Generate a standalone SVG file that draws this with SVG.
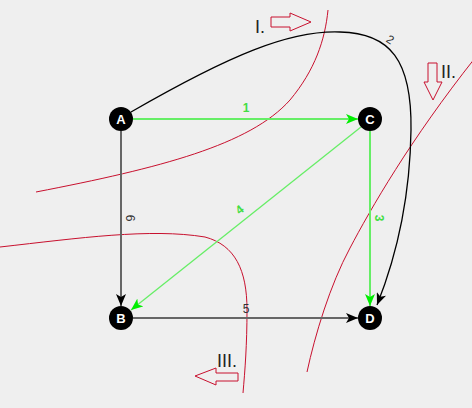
<svg xmlns="http://www.w3.org/2000/svg" width="472" height="408" viewBox="0 0 472 408">
<style>
.red{fill:none;stroke:#c8102e;stroke-width:1}
.redarrow{fill:none;stroke:#c8102e;stroke-width:1}
.cap{font-family:"Liberation Sans",Arial,sans-serif;font-size:18px;fill:#222}
.lbl{font-family:"Liberation Sans",Arial,sans-serif;font-size:12px}
.glbl{font-family:"Liberation Sans",Arial,sans-serif;font-size:12px;font-weight:bold;fill:#44dd44}
.node circle{fill:#000}
.node text{font-family:"Liberation Sans",Arial,sans-serif;font-size:13px;font-weight:bold;fill:#fff;text-anchor:middle}
.gray{fill:none;stroke:#666;stroke-width:2}
.green{fill:none;stroke:#66ee66;stroke-width:2}
.black{fill:none;stroke:#000;stroke-width:1.3}
</style>
<defs>
<marker id="ab" markerWidth="12" markerHeight="10" refX="12" refY="5" orient="auto" markerUnits="userSpaceOnUse"><path d="M0,0 L12,5 L0,10 L3,5 z" fill="#000"/></marker>
<marker id="ag" markerWidth="12" markerHeight="10" refX="12" refY="5" orient="auto" markerUnits="userSpaceOnUse"><path d="M0,0 L12,5 L0,10 L3,5 z" fill="#00ee00"/></marker>
</defs>
<rect width="472" height="408" fill="#efefef"/>
<g id="cuts">
<path class="red" d="M36,192 C160,168 250,145 290,100 C315,70 325,40 328,10"/>
<path class="red" d="M307,372 C315,335 330,285 350,248 C370,210 410,140 475,58"/>
<path class="red" d="M0,247 C80,238 150,228 205,237 C235,245 247,270 247,310 C247,345 245,370 243,393"/>
<path class="redarrow" d="M271,17 L290,17 L290,13 L311,22 L290,31 L290,27 L271,27 Z"/>
<path class="redarrow" d="M428,63 L437,63 L437,82 L442,82 L433,100 L424,82 L428,82 Z"/>
<path class="redarrow" d="M238,373 L216,373 L216,368 L195,376 L216,385 L216,381 L238,381 Z"/>
<text class="cap" x="255" y="33">I.</text>
<text class="cap" x="441" y="78">II.</text>
<text class="cap" x="217" y="367">III.</text>
</g>
<g id="connectors">
<path class="black" d="M131,112 C230,55 290,30 340,32 C390,33 412,60 411,130 C410,200 395,260 377,305" marker-end="url(#ab)"/>
<text class="lbl" fill="#333" transform="translate(388,43) rotate(32)" text-anchor="middle">2</text>
<line class="green" x1="133" y1="119" x2="358" y2="119" marker-end="url(#ag)"/>
<text class="glbl" x="246" y="112" text-anchor="middle">1</text>
<line class="gray" x1="121" y1="131" x2="121" y2="306" marker-end="url(#ab)"/>
<text class="lbl" fill="#333" transform="translate(126,218) rotate(90)" text-anchor="middle">6</text>
<line class="green" x1="370" y1="131" x2="370" y2="306" marker-end="url(#ag)"/>
<text class="glbl" transform="translate(375,218) rotate(90)" text-anchor="middle">3</text>
<line class="green" style="stroke-width:1.3" x1="361" y1="127" x2="131" y2="310" marker-end="url(#ag)"/>
<text class="glbl" transform="translate(242,213) rotate(-38.6)" text-anchor="middle">4</text>
<line class="gray" x1="133" y1="318" x2="358" y2="318" marker-end="url(#ab)"/>
<text class="lbl" fill="#333" x="246" y="313" text-anchor="middle">5</text>
</g>
<g id="A" class="node"><circle cx="121" cy="119" r="12"/><text x="121" y="124">A</text></g>
<g id="C" class="node"><circle cx="370" cy="119" r="12"/><text x="370" y="124">C</text></g>
<g id="B" class="node"><circle cx="121" cy="318" r="12"/><text x="121" y="323">B</text></g>
<g id="D" class="node"><circle cx="370" cy="318" r="12"/><text x="370" y="323">D</text></g>
</svg>
